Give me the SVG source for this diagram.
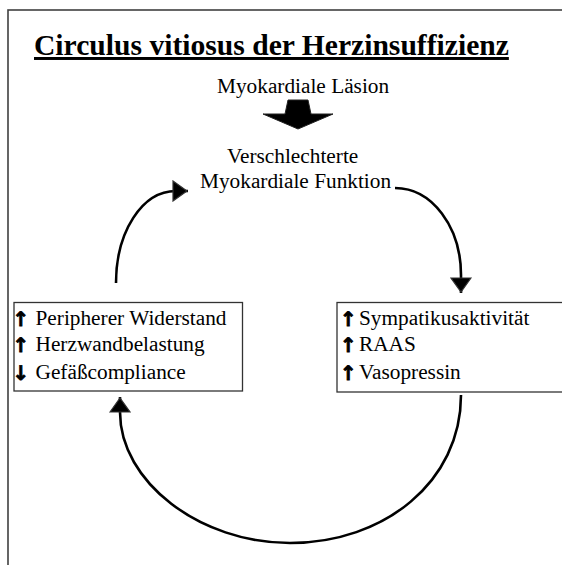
<svg xmlns="http://www.w3.org/2000/svg" width="562" height="565" viewBox="0 0 562 565">
<style>
text{font-family:"Liberation Serif","Times New Roman",serif;fill:#000}
.t{font-size:21.3px}
.title{font-size:29.6px;font-weight:bold;text-decoration:underline}
.box{fill:#fff;stroke:#333;stroke-width:1.3}
.frame{fill:none;stroke:#404040;stroke-width:1.6}
.arr{font-family:"DejaVu Sans",sans-serif;font-size:20px;font-weight:bold;stroke:#000;stroke-width:0.8}
.con{fill:none;stroke:#000;stroke-width:2.6}
</style>
<defs>
<marker id="ah" viewBox="0 0 16 22" refX="16" refY="11" markerWidth="16" markerHeight="22" markerUnits="userSpaceOnUse" orient="auto">
<path d="M1,1 L15,11 L1,21 Z" fill="#000" stroke="#333" stroke-width="1.2" stroke-linejoin="miter"/>
</marker>
</defs>
<rect width="562" height="565" fill="#fff"/>
<rect class="frame" x="8" y="10" width="570" height="570"/>
<g id="title">
<text class="title" x="34" y="55">Circulus vitiosus der Herzinsuffizienz</text>
</g>
<g id="laesion">
<text class="t" x="217" y="92.5">Myokardiale Läsion</text>
</g>
<g id="blockarrow">
<polygon points="288,100 308,100 311,114 333,114 298,129 263,114 285,114" fill="#000" stroke="#222" stroke-width="1"/>
</g>
<g id="funktion">
<text class="t" x="227" y="162.5">Verschlechterte</text>
<text class="t" x="200" y="187.5">Myokardiale Funktion</text>
</g>
<g id="left-box">
<rect class="box" x="14" y="302.5" width="228.5" height="88.5"/>
<text class="arr" x="21" y="325.5" text-anchor="middle">↑</text>
<text class="arr" x="21" y="352" text-anchor="middle">↑</text>
<text class="arr" x="21" y="379.5" text-anchor="middle">↓</text>
<text class="t" x="35.5" y="324.5">Peripherer Widerstand</text>
<text class="t" x="35.5" y="351">Herzwandbelastung</text>
<text class="t" x="35.5" y="378.5">Gefäßcompliance</text>
</g>
<g id="right-box">
<rect class="box" x="337" y="302.5" width="240" height="89.5"/>
<text class="arr" x="348.5" y="326" text-anchor="middle">↑</text>
<text class="arr" x="348.5" y="352" text-anchor="middle">↑</text>
<text class="arr" x="348.5" y="379.5" text-anchor="middle">↑</text>
<text class="t" x="359" y="325">Sympatikusaktivität</text>
<text class="t" x="359" y="351">RAAS</text>
<text class="t" x="359" y="378.5">Vasopressin</text>
</g>
<g id="connectors">
<path class="con" d="M116,283 C116,232 142,191 176,191 L188,191" marker-end="url(#ah)"/>
<path class="con" d="M395,188 C432,188 461,227 461,275 L461,293" marker-end="url(#ah)"/>
<path class="con" d="M461,395 C461,482 384,543 290,543 C200,543 120,482 120,412 L120,397" marker-end="url(#ah)"/>
</g>
</svg>
